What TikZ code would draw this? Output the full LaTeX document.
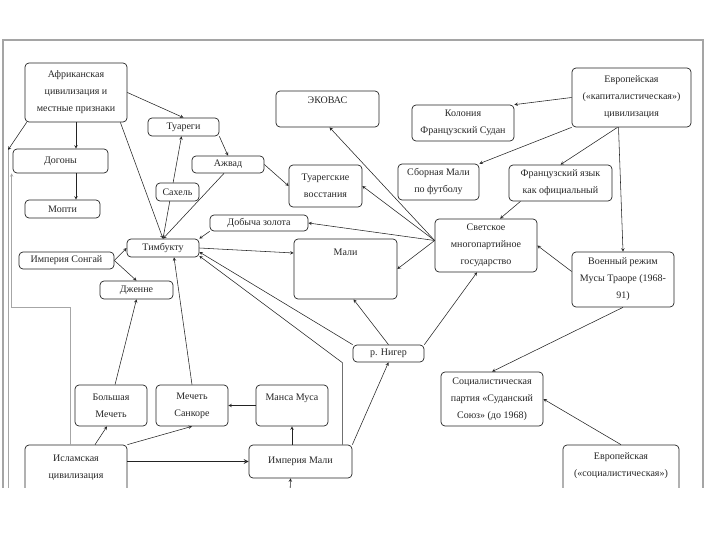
\documentclass[tikz,border=0pt]{standalone}
\usepackage{fontspec}
\setmainfont{Liberation Serif}
\usetikzlibrary{calc,arrows,positioning}
\definecolor{myframe}{RGB}{165,165,165}
\definecolor{myline}{RGB}{35,35,35}

\begin{document}
\begin{tikzpicture}[
  x=1pt, y=-1pt,
  >=stealth,
  mybox/.style={
    draw=myline,
    line width=0.7pt,
    rounded corners=4pt,
    fill=white,
    align=center,
    inner sep=1pt,
    text=black!85,
    font=\fontsize{10}{17}\selectfont
    },
  mylink/.style={->, myline, line width=0.55pt},
  myguide/.style={gray!70, line width=0.5pt}
]
\useasboundingbox (0,0) rectangle (720,540);
\draw[myframe, line width=1.5pt] (3,488) -- (3,40) -- (703,40) -- (703,488);
\begin{scope}
\clip (0,0) rectangle (720,487);

% left column
\node [mybox, minimum width=102pt, minimum height=59pt] (afr) at (76,92.5) {Африканская\\цивилизация и\\местные признаки};
\node [mybox, minimum width=95pt, minimum height=24pt] (dogon) at (60.5,161) {Догоны};
\node [mybox, minimum width=75pt, minimum height=18pt] (mopti) at (62.5,209) {Мопти};
\node [mybox, minimum width=95pt, minimum height=17pt] (songhai) at (66.5,260.5) {Империя Сонгай};
\node [mybox, minimum width=73pt, minimum height=18pt] (djenne) at (136.5,290) {Дженне};
\node [mybox, minimum width=72pt, minimum height=41pt] (bigmosque) at (111,405.5) {Большая\\Мечеть};
\node [mybox, minimum width=72pt, minimum height=41pt] (sankore) at (192,405.5) {Мечеть\\Санкоре};
\node [mybox, minimum width=102pt, minimum height=60pt] (islam) at (76,475) {Исламская\\цивилизация\\\mbox{}};

% middle
\node [mybox, minimum width=71pt, minimum height=18pt] (tuar) at (183.5,127) {Туареги};
\node [mybox, minimum width=72pt, minimum height=17pt] (azawad) at (228,164.5) {Ажвад};
\node [mybox, minimum width=72pt, minimum height=18pt] (timb) at (163,248) {Тимбукту};
\node [mybox, minimum width=98pt, minimum height=16pt] (gold) at (259,223) {Добыча золота};
\node [mybox, minimum width=103pt, minimum height=36pt] (ecowas) at (327.5,109) {ЭКОВАС\\\mbox{}};
\node [mybox, minimum width=73pt, minimum height=42pt] (revolt) at (325.5,186) {Туарегские\\восстания};
\node [mybox, minimum width=103pt, minimum height=60pt] (mali) at (345.5,269) {Мали\\\mbox{}\\\mbox{}};
\node [mybox, minimum width=71pt, minimum height=17pt] (niger) at (388.5,353.5) {р. Нигер};
\node [mybox, minimum width=72pt, minimum height=41pt] (mansa) at (292,405.5) {Манса Муса\\\mbox{}};
\node [mybox, minimum width=103pt, minimum height=33pt] (malemp) at (300.5,461.5) {Империя Мали};

% right side
\node [mybox, minimum width=102pt, minimum height=36pt] (colony) at (463,123) {Колония\\Французский Судан};
\node [mybox, minimum width=119pt, minimum height=59pt] (eurocap) at (631.5,97.5) {Европейская\\(«капиталистическая»)\\цивилизация};
\node [mybox, minimum width=81pt, minimum height=36pt] (team) at (438.5,182) {Сборная Мали\\по футболу};
\node [mybox, minimum width=103pt, minimum height=36pt] (french) at (560.5,183) {Французский язык\\как официальный};
\node [mybox, minimum width=102pt, minimum height=53pt] (secular) at (486,245.5) {Светское\\многопартийное\\государство};
\node [mybox, minimum width=102pt, minimum height=55pt] (military) at (623,279.5) {Военный режим\\Мусы Траоре (1968-\\91)};
\node [mybox, minimum width=102pt, minimum height=54pt] (socialist) at (492,399) {Социалистическая\\партия «Суданский\\Союз» (до 1968)};
\node [mybox, minimum width=116pt, minimum height=59pt] (eurosoc) at (621,474.5) {Европейская\\(«социалистическая»)\\цивилизация};

\coordinate (lefttop) at (8,150);
\coordinate (leftbottom) at (8,490);
\coordinate (below) at (290,495);

% links
\draw [mylink] (afr.south) -- (afr.south |- dogon.north);
\draw [mylink] (afr.south |- dogon.south) -- (afr.south |- mopti.north);
\draw [mylink] (afr.east) -- (tuar.north);
\draw [mylink] ([xshift=-7pt]afr.south east) -- (timb.north);
\draw [mylink] ([xshift=2pt]afr.south west) -- (lefttop);
\draw [myguide] (lefttop) -- (leftbottom);
\draw [myguide, ->] ([xshift=-6pt]islam.north) -- ++(0,-137) -| ([xshift=-1pt]dogon.south west);
\draw [mylink] (timb.north) -- ([xshift=-2pt]tuar.south);
\draw [mylink] (tuar.south east) -- (azawad.north);
\draw [mylink] ([xshift=-4pt]azawad.south) -- (timb.north);
\draw [mylink] (azawad.east) -- (revolt.west);
\draw [mylink] ([yshift=5pt]secular.west) -- ([xshift=2pt]ecowas.south);
\draw [mylink] ([yshift=5pt]secular.west) -- (revolt.east);
\draw [mylink] ([yshift=5pt]secular.west) -- (gold.east);
\draw [mylink] ([yshift=5pt]secular.west) -- (mali.east);
\draw [mylink] (gold.south west) -- (timb.north east);
\draw [mylink] (timb.east) -- ([yshift=16pt]mali.west);
\draw [mylink] (niger.north west) -- ([yshift=-4pt]timb.east);
\draw [mylink] ([xshift=-10pt]malemp.north east) -- ++(0,-82) -- ([yshift=-8pt]timb.east);
\draw [mylink] (niger.north) -- ([xshift=8pt]mali.south);
\draw [mylink] (niger.north east) -- ([xshift=-9pt]secular.south);
\draw [mylink] (malemp.north east) -- (niger.south);
\draw [mylink] (mansa.south |- malemp.north) -- (mansa.south);
\draw [mylink] (mansa.west) -- (sankore.east);
\draw [mylink, line width=1.2pt] (malemp.west -| islam.east) -- (malemp.west);
\draw [mylink] ([xshift=19pt]islam.north) -- ([xshift=-4pt]bigmosque.south);
\draw [mylink] (islam.north east) -- (sankore.south);
\draw [mylink] (sankore.north) -- ([xshift=11pt]timb.south);
\draw [mylink] ([xshift=4pt]bigmosque.north) -- (djenne.south);
\draw [mylink] (songhai.east) -- (timb.west);
\draw [mylink] (songhai.east) -- (djenne.north);
\draw [mylink] (below) -- ([xshift=-10pt]malemp.south);
\draw [mylink] (eurocap.west) -- (colony.north east);
\draw [mylink] (eurocap.south west) -- (team.north east);
\draw [mylink] ([xshift=-14pt]eurocap.south) -- (french.north);
\draw [mylink] ([xshift=-13pt]eurocap.south) -- (military.north);
\draw [mylink] ([xshift=-40pt]french.south) -- ([xshift=14pt]secular.north);
\draw [mylink] ([yshift=8pt]military.west) -- (secular.east);
\draw [mylink] (military.south) -- (socialist.north);
\draw [mylink] (eurosoc.north) -- (socialist.east);

% drawn last, the line to Туареги runs behind it
\node [mybox, minimum width=43pt, minimum height=18pt] (sahel) at (177.5,192) {Сахель};
\end{scope}
\end{tikzpicture}
\end{document}
